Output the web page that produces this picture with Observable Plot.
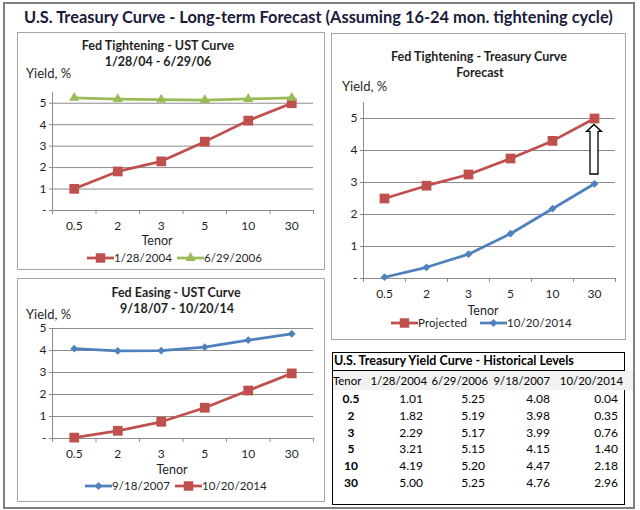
<!DOCTYPE html>
<html>
<head>
<meta charset="utf-8">
<script src="https://cdn.jsdelivr.net/npm/d3@7"></script>
<script src="https://cdn.jsdelivr.net/npm/@observablehq/plot@0.6"></script>
<style>
  html, body { margin: 0; padding: 0; background: #fff; }
  #page { position: relative; width: 640px; height: 510px; background: #fff; overflow: hidden;
          font-family: Lato, "Open Sans", sans-serif; }
  .abs { position: absolute; white-space: nowrap; }
  .box { position: absolute; border: 1px solid #a6a6a6; background: #fff; box-sizing: border-box; }
  table.hist { border-collapse: collapse; font-family: Lato, "Open Sans", sans-serif; font-size: 12px; color: #000; }
  table.hist td { padding: 0; height: 16.8px; line-height: 16.8px; white-space: nowrap; }
</style>
</head>
<body>
<div id="page"></div>
<script>
// ---------------- data ----------------
const tenors = ["0.5", "2", "3", "5", "10", "30"];
const y2004 = [1.01, 1.82, 2.29, 3.21, 4.19, 5.00];
const y2006 = [5.25, 5.19, 5.17, 5.15, 5.20, 5.25];
const y2007 = [4.08, 3.98, 3.99, 4.15, 4.47, 4.76];
const y2014 = [0.04, 0.35, 0.76, 1.40, 2.18, 2.96];
const projected = [2.50, 2.90, 3.25, 3.75, 4.30, 5.00];
const yTicks = [0, 1, 2, 3, 4, 5];
const tableHeader = ["Tenor", "1/28/2004", "6/29/2006", "9/18/2007", "10/20/2014"];
const arrowFrom = 3.25, arrowTo = 4.8; // yield levels of the forecast arrow at the 30y tenor

// ---------------- style ----------------
const RED = "#C0504D", GREEN = "#9BBB59", BLUE = "#4F81BD";
const GRID = "#8c8c8c", TXT = "#1f1f1f";
const FONT = 'Lato, "Open Sans", sans-serif';
const page = document.getElementById("page");

function txt(t, x, cy, {size = 12, weight = 400, anchor = "middle", color = TXT, spacing = 0} = {}) {
  const d = document.createElement("div");
  d.className = "abs";
  d.textContent = t;
  d.style.fontSize = size + "px";
  d.style.fontWeight = weight;
  d.style.color = color;
  d.style.letterSpacing = spacing + "px";
  d.style.lineHeight = size + "px";
  d.style.top = (cy - size * 0.5) + "px";
  d.style.left = x + "px";
  if (anchor === "middle") d.style.transform = "translateX(-50%)";
  page.appendChild(d);
  return d;
}
function box(l, t, r, b, border) {
  const d = document.createElement("div");
  d.className = "box";
  Object.assign(d.style, {left: l + "px", top: t + "px", width: (r - l) + "px", height: (b - t) + "px"});
  if (border) d.style.border = border;
  page.appendChild(d);
  return d;
}
const symbols = {square: d3.symbolSquare, triangle: d3.symbolTriangle, diamond2: d3.symbolDiamond2};
const symArea = {square: 90, triangle: 46, diamond2: 40};
function legendItem(x, cy, color, symbol, label) {
  const ns = "http://www.w3.org/2000/svg";
  const svg = document.createElementNS(ns, "svg");
  svg.setAttribute("width", 27); svg.setAttribute("height", 12);
  svg.style.position = "absolute"; svg.style.left = x + "px"; svg.style.top = (cy - 6) + "px";
  const ln = document.createElementNS(ns, "line");
  ln.setAttribute("x1", 0); ln.setAttribute("x2", 27); ln.setAttribute("y1", 6); ln.setAttribute("y2", 6);
  ln.setAttribute("stroke", color); ln.setAttribute("stroke-width", 2.75);
  svg.appendChild(ln);
  const p = document.createElementNS(ns, "path");
  p.setAttribute("d", d3.symbol(symbols[symbol], symArea[symbol])());
  p.setAttribute("transform", "translate(13.5,6)");
  p.setAttribute("fill", color);
  svg.appendChild(p);
  page.appendChild(svg);
  txt(label, x + 27, cy, {size: 11.5, anchor: "left", spacing: 0.1});
}

function chart({series, yMax, left, top, width, height, ml, mr, mt, mb, arrow}) {
  const centers = tenors.map((_, i) => i + 0.5);
  const marks = [
    Plot.gridY(yTicks, {stroke: GRID, strokeOpacity: 1}),
    Plot.ruleX([0], {stroke: GRID}),
    Plot.ruleY([0], {stroke: GRID}),
    Plot.axisY({ticks: yTicks, tickFormat: d => d === 0 ? "-" : d, tickSize: 3, tickPadding: 3,
                stroke: GRID, fill: TXT, label: null}),
    Plot.axisX({ticks: d3.range(tenors.length + 1), tickFormat: () => "", tickSize: 4, stroke: GRID, label: null}),
    Plot.axisX({ticks: centers, tickFormat: d => tenors[Math.floor(d)], tickSize: 0, tickPadding: 11,
                fill: TXT, label: null})
  ];
  for (const s of series) {
    const rows = s.values.map((v, i) => ({x: i + 0.5, v}));
    marks.push(Plot.line(rows, {x: "x", y: "v", stroke: s.color, strokeWidth: 2.75}));
    marks.push(Plot.dot(rows, {x: "x", y: "v", symbol: s.symbol, r: s.r, fill: s.color, stroke: "none"}));
  }
  if (arrow) {
    marks.push((index, scales) => {
      const cx = scales.x(tenors.length - 0.5);
      const yb = scales.y(arrow.from), yt = scales.y(arrow.to);
      const sw = 4, hw = 7.5, hh = 7;
      const d = `M${cx - sw},${yb} L${cx - sw},${yt + hh} L${cx - hw},${yt + hh} L${cx},${yt} ` +
                `L${cx + hw},${yt + hh} L${cx + sw},${yt + hh} L${cx + sw},${yb} Z`;
      const g = d3.create("svg:path").attr("d", d).attr("fill", "#fff").attr("stroke", "#000").attr("stroke-width", 1.3);
      return g.node();
    });
  }
  const svg = Plot.plot({
    width, height, marginLeft: ml, marginRight: mr, marginTop: mt, marginBottom: mb,
    x: {type: "linear", domain: [0, tenors.length]},
    y: {domain: [0, yMax]},
    style: {fontFamily: FONT, fontSize: "12px", background: "transparent", overflow: "visible", color: TXT},
    marks
  });
  svg.style.position = "absolute";
  svg.style.left = left + "px";
  svg.style.top = top + "px";
  page.appendChild(svg);
}

// ---------------- frame & title ----------------
box(3, 2, 635, 509, "2px solid #7f7f7f");
txt("U.S. Treasury Curve - Long-term Forecast (Assuming 16-24 mon. tightening cycle)", 24, 17,
    {size: 16.4, weight: 700, anchor: "left", color: "#1a1a3a"});

// ---------------- panel 1 ----------------
box(17, 32, 325, 270);
txt("Fed Tightening - UST Curve", 158, 46, {size: 12.5, weight: 700});
txt("1/28/04  - 6/29/06", 158, 62, {size: 12.5, weight: 700});
txt("Yield, %", 26, 73, {size: 13, anchor: "left"});
chart({series: [
        {values: y2004, color: RED, symbol: "square", r: 5.5},
        {values: y2006, color: GREEN, symbol: "triangle", r: 3.8}],
      yMax: 5.5, left: 17, top: 80, width: 308, height: 155, ml: 35, mr: 12, mt: 12, mb: 25});
txt("Tenor", 157, 241, {size: 12.5});
legendItem(87, 258, RED, "square", "1/28/2004");
legendItem(177, 258, GREEN, "triangle", "6/29/2006");

// ---------------- panel 2 (bottom-left) ----------------
box(17, 278, 325, 502);
txt("Fed Easing - UST Curve", 176, 293, {size: 12.5, weight: 700});
txt("9/18/07  - 10/20/14", 177, 309, {size: 12.5, weight: 700});
txt("Yield, %", 26, 314, {size: 13, anchor: "left"});
chart({series: [
        {values: y2007, color: BLUE, symbol: "diamond2", r: 3.5},
        {values: y2014, color: RED, symbol: "square", r: 5.5}],
      yMax: 5, left: 17, top: 318, width: 308, height: 145, ml: 35, mr: 12, mt: 10, mb: 25});
txt("Tenor", 172, 470, {size: 12.5});
legendItem(85, 486, BLUE, "diamond2", "9/18/2007");
legendItem(175, 486, RED, "square", "10/20/2014");

// ---------------- panel 3 (right) ----------------
box(331, 33, 626, 340);
txt("Fed Tightening - Treasury Curve", 479, 57, {size: 12.5, weight: 700});
txt("Forecast", 480, 73, {size: 12.5, weight: 700});
txt("Yield, %", 342, 86, {size: 13, anchor: "left"});
chart({series: [
        {values: projected, color: RED, symbol: "square", r: 5.5},
        {values: y2014, color: BLUE, symbol: "diamond2", r: 3.5}],
      yMax: 5.5, left: 331, top: 90, width: 295, height: 213, ml: 32, mr: 11, mt: 12, mb: 25,
      arrow: {from: arrowFrom, to: arrowTo}});
txt("Tenor", 483, 311, {size: 12.5});
legendItem(391, 323, RED, "square", "Projected");
legendItem(480, 323, BLUE, "diamond2", "10/20/2014");

// ---------------- table ----------------
box(332, 352, 625, 505, "1px solid #000");
const hdrBg = document.createElement("div");
Object.assign(hdrBg.style, {position: "absolute", left: "333px", top: "371px", width: "300px", height: "19px", background: "#f2f2f2"});
page.appendChild(hdrBg);
const tbl = document.createElement("table");
tbl.className = "hist";
Object.assign(tbl.style, {position: "absolute", left: "333px", top: "352px", width: "292px", tableLayout: "fixed"});
const colW = [36, 59, 62, 63, 72];
const hdrPadR = [0, 1, 2, 3, 2];
const colPadR = [0, 5, 5, 3, 7];
let html = `<colgroup>${colW.map(w => `<col style="width:${w}px">`).join("")}</colgroup>`;
html += `<tr><td colspan="5" style="font-weight:700;font-size:12.5px;height:18px;line-height:18px;border-bottom:1px solid #000;padding-left:1px">U.S. Treasury Yield Curve - Historical Levels</td></tr>`;
html += "<tr>" + tableHeader.map((h, i) =>
  `<td style="font-size:11.4px;height:20px;line-height:20px;text-align:${i === 0 ? "left" : "right"};padding-right:${hdrPadR[i]}px;overflow:visible">${h}</td>`).join("") + "</tr>";
const cols = [y2004, y2006, y2007, y2014];
tenors.forEach((t, r) => {
  html += `<tr><td style="text-align:center;font-weight:700">${t}</td>` +
    cols.map((c, i) => `<td style="text-align:right;padding-right:${colPadR[i + 1]}px">${c[r].toFixed(2)}</td>`).join("") + "</tr>";
});
tbl.innerHTML = html;
page.appendChild(tbl);
</script>
</body>
</html>
